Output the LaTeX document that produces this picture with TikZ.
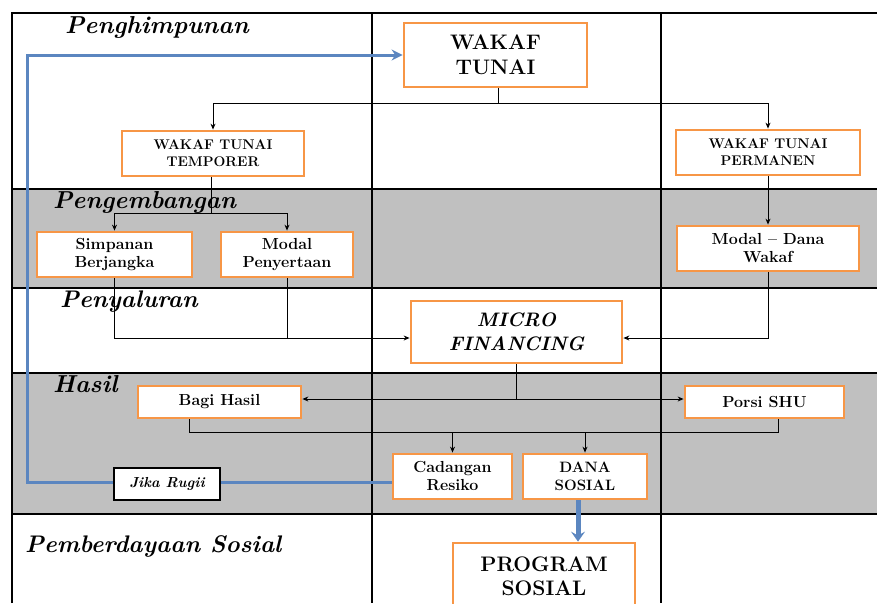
\documentclass[tikz,border=0pt]{standalone}
\usepackage{fontspec}
\usetikzlibrary{arrows.meta}
\definecolor{orng}{HTML}{F79646}
\definecolor{bluel}{HTML}{5B86C0}
\definecolor{bandgray}{HTML}{C0C0C0}
\newcommand\myfs[2]{\fontsize{#1}{#2}\selectfont}
\tikzset{
  obox/.style={draw=orng, line width=2.8pt, fill=white, align=center, inner sep=1pt, font=\bfseries},
  kbox/.style={draw=black, line width=2.8pt, fill=white, align=center, inner sep=1pt},
  lane/.style={anchor=base west, inner sep=0pt, font=\bfseries\itshape\myfs{24.5}{28}},
  grid/.style={draw=black, line width=1.1pt},
  conn/.style={draw=black, line width=0.9pt},
  arr/.style={conn, -{Stealth[length=6pt,width=5pt]}},
  bline/.style={draw=bluel, line width=3pt},
  barr/.style={bline, -{Stealth[length=11pt,width=11pt]}},
  bigarr/.style={draw=bluel, line width=5pt, -{Stealth[length=10pt,width=14pt,inset=4pt]}}
}
\begin{document}
\begin{tikzpicture}[x=1pt,y=-1pt]
\useasboundingbox (0,0) rectangle (877,603);
\clip (0,0) rectangle (877,603);
% bands
\fill[white] (0,0) rectangle (877,603);
\fill[bandgray] (12,189) rectangle (877,288);
\fill[bandgray] (12,373) rectangle (877,514);
% grid
\draw[grid] (12,603) -- (12,13) -- (877,13);
\draw[grid] (12,189) -- (877,189);
\draw[grid] (12,288) -- (877,288);
\draw[grid] (12,373) -- (877,373);
\draw[grid] (12,514) -- (877,514);
\draw[grid] (372,13) -- (372,603);
\draw[grid] (661,13) -- (661,603);
% lane labels
\node[lane] (l1) at (65,33) {Penghimpunan};
\node[lane] (l2) at (53,208) {Pengembangan};
\node[lane, font=\bfseries\itshape\myfs{24}{28}] (l3) at (60,307) {Penyaluran};
\node[lane] (l4) at (53,392) {Hasil};
\node[lane, font=\bfseries\itshape\myfs{24}{28}] (l5) at (25,552) {Pemberdayaan Sosial};
% boxes
\node[obox, minimum width=183pt, minimum height=64pt, font=\bfseries\myfs{21}{24.5}] (wt) at (495.5,55) {WAKAF\\TUNAI};
\node[obox, minimum width=182pt, minimum height=45pt, font=\bfseries\myfs{14}{17}] (tmp) at (213,153.5) {WAKAF TUNAI\\TEMPORER};
\node[obox, minimum width=184pt, minimum height=45pt, font=\bfseries\myfs{14}{17}] (per) at (768,152.5) {WAKAF TUNAI\\PERMANEN};
\node[obox, minimum width=155pt, minimum height=45pt, font=\bfseries\myfs{16}{18}] (simp) at (114.5,254.5) {Simpanan\\Berjangka};
\node[obox, minimum width=132pt, minimum height=45pt, font=\bfseries\myfs{16}{18}] (modp) at (287,254.5) {Modal\\Penyertaan};
\node[obox, minimum width=182pt, minimum height=45pt, font=\bfseries\myfs{16}{18}] (modd) at (768,248.5) {Modal -- Dana\\Wakaf};
\node[obox, minimum width=211pt, minimum height=62pt, font=\bfseries\itshape\myfs{19.5}{24}] (mic) at (516.5,332) {MICRO\\FINANCING};
\node[obox, minimum width=163pt, minimum height=32pt, font=\bfseries\myfs{16}{18}] (bagi) at (219.5,402) {Bagi Hasil};
\node[obox, minimum width=159pt, minimum height=32pt, font=\bfseries\myfs{16}{18}] (porsi) at (764.5,402) {Porsi SHU};
\node[obox, minimum width=119pt, minimum height=45pt, font=\bfseries\myfs{16}{18}] (cad) at (452.5,476.5) {Cadangan\\Resiko};
\node[obox, minimum width=124pt, minimum height=45pt, font=\bfseries\myfs{15}{18}] (dana) at (585,476.5) {DANA\\SOSIAL};
\node[kbox, minimum width=106pt, minimum height=32pt, font=\bfseries\itshape\myfs{14.5}{16}] (jika) at (167,484) {Jika Rugii};
\node[obox, minimum width=182pt, minimum height=66pt, font=\bfseries\myfs{21}{24}] (prog) at (544,576) {PROGRAM\\SOSIAL};
% junction coordinates
\coordinate (j1) at (498,103);
\coordinate (j2) at (211,213);
\coordinate (j3) at (0,338);
\coordinate (j4) at (516,399);
\coordinate (b5) at (189,432);
\coordinate (p5) at (778,432);
\coordinate (bl) at (27,482);
% connectors
\draw[conn] (wt.south -| j1) -- (j1);
\draw[arr] (j1) -| (tmp.north);
\draw[arr] (j1) -| (per.north);
\draw[conn] (tmp.south -| j2) -- (j2);
\draw[arr] (j2) -| (simp.north);
\draw[arr] (j2) -| (modp.north);
\draw[arr] (simp.south) |- (mic.west |- j3);
\draw[conn] (modp.south) -- (modp.south |- j3);
\draw[arr] (per.south) -- (modd.north);
\draw[arr] (modd.south) |- (mic.east |- j3);
\draw[conn] (mic.south -| j4) -- (j4);
\draw[arr] (j4) -- (bagi.east |- j4);
\draw[arr] (j4) -- (porsi.west |- j4);
\draw[conn] (b5 |- bagi.south) -- (b5) -- (p5) -- (p5 |- porsi.south);
\draw[arr] (cad.north |- b5) -- (cad.north);
\draw[arr] (dana.north |- b5) -- (dana.north);
\draw[bline] (cad.west |- bl) -- (jika.east |- bl);
\draw[barr] (jika.west |- bl) -- (bl) |- (wt.west);
\draw[bigarr] ([xshift=-7pt]dana.south) -- ([xshift=-7pt]dana.south |- prog.north);
\end{tikzpicture}
\end{document}
